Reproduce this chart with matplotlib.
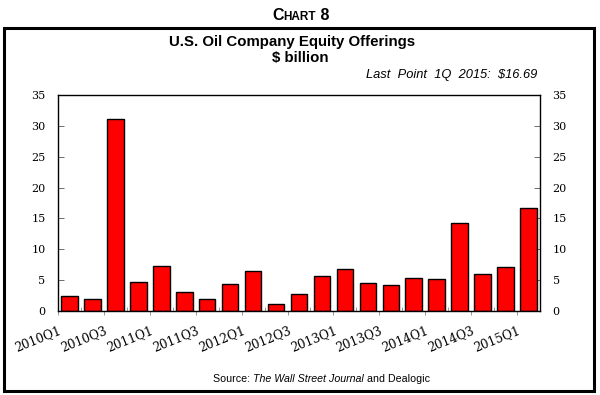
import matplotlib
matplotlib.use("Agg")
import matplotlib.pyplot as plt
from matplotlib.patches import Rectangle
import numpy as np

quarters = ["2010Q1", "2010Q2", "2010Q3", "2010Q4",
            "2011Q1", "2011Q2", "2011Q3", "2011Q4",
            "2012Q1", "2012Q2", "2012Q3", "2012Q4",
            "2013Q1", "2013Q2", "2013Q3", "2013Q4",
            "2014Q1", "2014Q2", "2014Q3", "2014Q4",
            "2015Q1"]
values = [2.5, 1.9, 31.1, 4.65, 7.25, 3.0, 1.9, 4.4, 6.55, 1.1, 2.7,
          5.75, 6.75, 4.55, 4.15, 5.3, 5.2, 14.3, 6.05, 7.1, 16.69]
yticks = [0, 5, 10, 15, 20, 25, 30, 35]

W, H = 600, 395
fig = plt.figure(figsize=(6, 3.95), dpi=100)
ax = fig.add_axes([58/W, 1-311/H, (540-58)/W, (311-95)/H])

x = np.arange(len(values))
ax.bar(x, values, width=0.72, color="#FF0000", edgecolor="black", linewidth=1.0, zorder=2)
ax.set_xlim(-0.5, len(values) - 0.5)
ax.set_ylim(0, 35)

serif = ["DejaVu Serif"]
ax.set_yticks(yticks)
ax.set_yticklabels([str(v) for v in yticks])
ax.tick_params(axis="y", direction="in", length=4, width=0.6, color="#555555",
               left=True, right=True, labelleft=True, labelright=True, pad=9)
for tick in ax.yaxis.get_major_ticks():
    for lab in (tick.label1, tick.label2):
        lab.set_fontfamily(serif)
        lab.set_fontsize(8)
        lab.set_verticalalignment("center_baseline")

label_pos = [i - 0.5 for i in range(0, len(values), 2)]
ax.set_xticks(label_pos)
ax.set_xticklabels([quarters[i] for i in range(0, len(values), 2)],
                   family=serif, fontsize=8.8, rotation=22, ha="right", va="top",
                   rotation_mode="anchor")
ax.tick_params(axis="x", direction="out", length=3, width=0.6, color="#888888", pad=6)
ax.set_xticks(np.arange(-0.5, len(values), 1.0), minor=True)
ax.tick_params(axis="x", which="minor", direction="in", length=3, width=0.6, color="#888888")

for s in ax.spines.values():
    s.set_linewidth(1.0)
    s.set_color("black")

# outer frame
fig.patches.append(Rectangle((4/W, 4/H), 590/W, 363/H, transform=fig.transFigure,
                             fill=False, edgecolor="black", linewidth=2.2))

sans = ["Liberation Sans", "DejaVu Sans"]
renderer = fig.canvas.get_renderer()


def chain(parts, x0, y0):
    """parts: list of (text, kwargs); placed left to right on a common baseline (pixels)."""
    xcur = x0
    for txt, kw in parts:
        t = fig.text(xcur / W, 1 - y0 / H, txt, ha="left", va="baseline", **kw)
        bb = t.get_window_extent(renderer=renderer)
        xcur = bb.x1


chain([("C", dict(family=sans, fontsize=11.5, fontweight="bold")),
       ("HART", dict(family=sans, fontsize=8.5, fontweight="bold")),
       (" 8", dict(family=sans, fontsize=11.5, fontweight="bold"))], 272, 20)

fig.text(292/W, 1-42/H, "U.S. Oil Company Equity Offerings", family=sans, fontsize=10.8,
         fontweight="bold", ha="center", va="center")
fig.text(300/W, 1-58/H, "$ billion", family=sans, fontsize=10.8,
         fontweight="bold", ha="center", va="center")
fig.text(537/W, 1-75/H, "Last  Point  1Q  2015:  $16.69", family=sans, fontsize=9.3,
         style="italic", ha="right", va="center")

chain([("Source: ", dict(family=sans, fontsize=7.7)),
       ("The Wall Street Journal", dict(family=sans, fontsize=7.7, style="italic")),
       (" and Dealogic", dict(family=sans, fontsize=7.7))], 213, 382)

fig.savefig("out.png", dpi=100)
